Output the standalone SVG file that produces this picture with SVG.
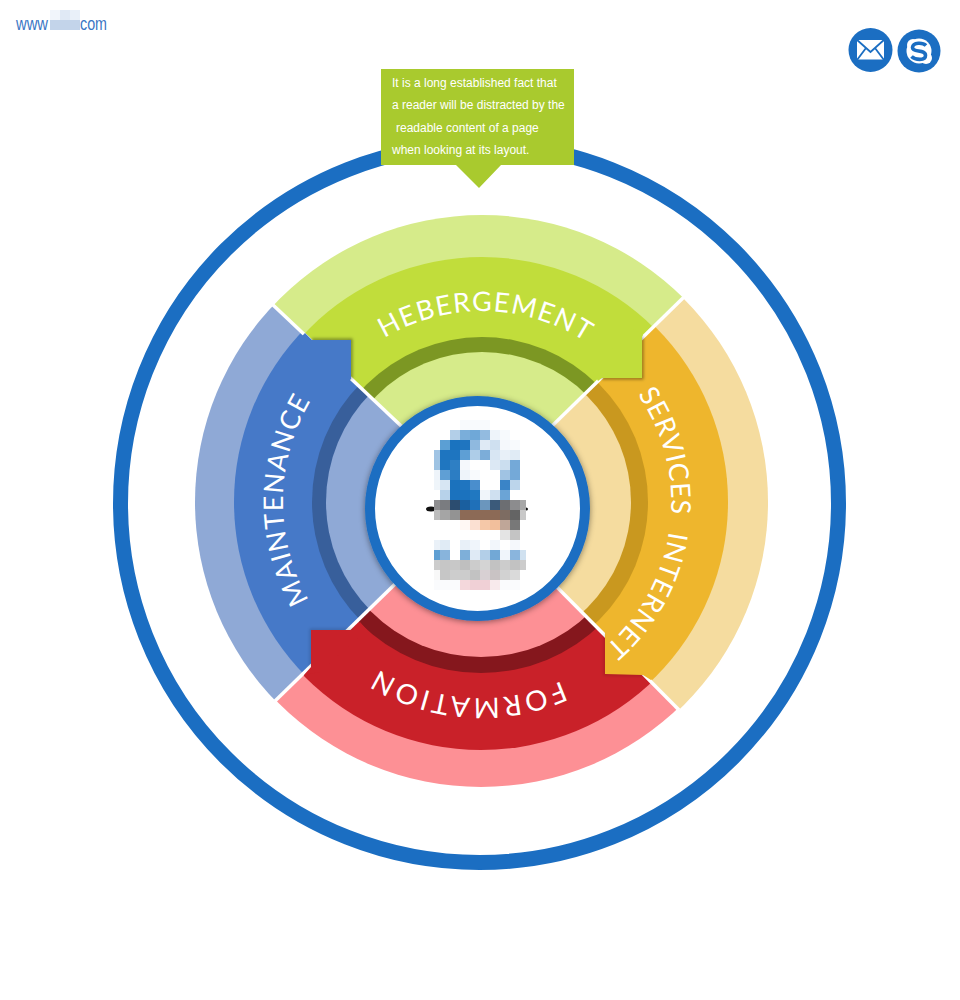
<svg xmlns="http://www.w3.org/2000/svg" width="960" height="1000" viewBox="0 0 960 1000">
<style>
.lab{font-family:"Lato","Liberation Sans",sans-serif;font-size:27px;fill:#fff}
.cal{font-family:"Liberation Sans",Arial,sans-serif;font-size:12px;fill:#fff}
.url{font-family:"Liberation Sans Narrow","Liberation Sans",sans-serif;font-size:18px;fill:#3a76c4}
.div{stroke:#fff;stroke-width:3.5;fill:none}
.sh{fill:none;stroke:#000;stroke-width:3;stroke-opacity:.4;filter:url(#blur)}
.sl{stroke-opacity:.15}
</style>
<defs>
<filter id="blur" x="-30%" y="-30%" width="160%" height="160%"><feGaussianBlur stdDeviation="1.5"/></filter>
<filter id="cs" x="-10%" y="-10%" width="120%" height="120%"><feDropShadow dx="0" dy="1" stdDeviation="3" flood-color="#000" flood-opacity=".45"/></filter>
<clipPath id="wg"><polygon points="180,217 479,500 780,203 780,100 180,100"/></clipPath>
<clipPath id="wb"><polygon points="180,217 479,500 479,502 180,793.5 100,793.5 100,217"/></clipPath>
<clipPath id="wo"><polygon points="780,203 479,500 479,508.6 780,811.7 860,811.7 860,203"/></clipPath>
<clipPath id="wr"><polygon points="180,793.5 479,502 479,508.6 780,811.7 780,860 180,860"/></clipPath>
<path id="pg" d="M317.5,406 A190,190 0 0 1 646.5,406"/>
<path id="pb" d="M309.5,601 A198,198 0 0 1 309.5,403"/>
<path id="po" d="M626.8,380 A191,191 0 0 1 590.6,658.4"/>
<path id="pr" d="M607.7,651.9 A197,197 0 0 1 354.3,651.9"/>
</defs>
<rect width="960" height="1000" fill="#fff"/>
<g id="outer-ring"><circle cx="479.5" cy="503.5" r="359" fill="none" stroke="#1b6ec2" stroke-width="15"/></g>

<g id="sector-hebergement" clip-path="url(#wg)">
<circle cx="482" cy="501" r="286" fill="#d6eb8a"/><circle cx="482" cy="501" r="244" fill="#c1dd3b"/><circle cx="482" cy="501" r="164" fill="#7c9723"/><circle cx="482" cy="501" r="149" fill="#d6eb8a"/>
</g>
<g id="sector-maintenance" clip-path="url(#wb)">
<circle cx="481" cy="502" r="286" fill="#8fa9d6"/><circle cx="481" cy="502" r="247" fill="#4679c8"/><circle cx="481" cy="502" r="169" fill="#385f9b"/><circle cx="481" cy="502" r="155" fill="#8fa9d6"/>
</g>
<g id="sector-services" clip-path="url(#wo)">
<circle cx="481" cy="502" r="287" fill="#f5dc9f"/><circle cx="481" cy="502" r="247" fill="#eeb62d"/><circle cx="481" cy="502" r="167" fill="#c9981f"/><circle cx="481" cy="502" r="150" fill="#f5dc9f"/>
</g>
<g id="sector-formation" clip-path="url(#wr)">
<circle cx="481" cy="501" r="286" fill="#fd9095"/><circle cx="481" cy="501" r="249" fill="#c92129"/><circle cx="481" cy="501" r="172" fill="#85171d"/><circle cx="481" cy="501" r="156" fill="#fd9095"/>
</g>

<g id="connectors">
<path class="div" d="M272,304 L420,443.8"/>
<path class="div" d="M684,297 L540,437.7"/>
<path class="div" d="M540,570 L679,710"/>
<path class="div" d="M410,569.5 L275,701"/>
</g>

<g id="tab-maintenance">
<path class="sh" d="M312,340H351V379"/>
<polygon points="305,333 312,340 351,340 351,379 345,385 298,340" fill="#4679c8"/>
</g>
<g id="tab-hebergement">
<path class="sh" d="M642,337V378H602"/>
<polygon points="643,335 642,337 642,378 602,378 598,381 592,370 632,328" fill="#c1dd3b"/>
</g>
<g id="tab-services">
<path class="sh sl" d="M605,634V674L643,675"/>
<polygon points="605,633 605,674 643,675 651,680 651,668 615,628" fill="#eeb62d"/>
</g>
<g id="tab-formation">
<path class="sh sl" d="M353,630H311V667"/>
<polygon points="360,622 353,630 311,630 311,667 304,675 320,672 367,630" fill="#c92129"/>
</g>

<g id="labels">
<text class="lab" letter-spacing="1.3"><textPath href="#pg" startOffset="51%" text-anchor="middle">HEBERGEMENT</textPath></text>
<text class="lab" letter-spacing="1.2"><textPath href="#pb" startOffset="51%" text-anchor="middle">MAINTENANCE</textPath></text>
<text class="lab" letter-spacing="0.8" word-spacing="9"><textPath href="#po" startOffset="50%" text-anchor="middle">SERVICES INTERNET</textPath></text>
<text class="lab" letter-spacing="3" style="font-size:28px"><textPath href="#pr" startOffset="55%" text-anchor="middle">FORMATION</textPath></text>
</g>

<g id="callout">
<polygon points="381,69 574,69 574,165 501,165 479,188 456,165 381,165" fill="#a9ca2e"/>
<text class="cal" x="392" y="87">It is a long established fact that</text>
<text class="cal" x="392" y="109">a reader will be distracted by the</text>
<text class="cal" x="396" y="132">readable content of a page</text>
<text class="cal" x="392" y="154">when looking at its layout.</text>
</g>

<g id="center">
<circle cx="477.5" cy="508.5" r="107.5" fill="#fff" stroke="#1b6ec2" stroke-width="10" filter="url(#cs)"/>
<ellipse cx="431" cy="509" rx="5" ry="2.5" fill="#111"/><ellipse cx="526" cy="509" rx="2" ry="1.5" fill="#111"/>
<g id="pixels" shape-rendering="crispEdges">
<path fill="#f8fafd" d="M460,420h30v10h-30z"/>
<path fill="#b3cfe8" d="M450,430h10v10h-10z"/><path fill="#7aaeda" d="M460,430h10v10h-10z"/><path fill="#6fa8d8" d="M470,430h10v10h-10z"/><path fill="#93bbe0" d="M480,430h10v10h-10z"/><path fill="#eef4fa" d="M490,430h10v10h-10z"/><path fill="#f7fafd" d="M500,430h10v10h-10z"/>
<path fill="#5b9fd4" d="M440,440h10v10h-10z"/><path fill="#1a73bf" d="M450,440h10v10h-10z"/><path fill="#1f75c0" d="M460,440h10v10h-10z"/><path fill="#8fb9df" d="M470,440h10v10h-10z"/><path fill="#dfeaf5" d="M480,440h10v10h-10z"/><path fill="#cfe0f0" d="M490,440h10v10h-10z"/><path fill="#f5f8fc" d="M500,440h10v10h-10z"/><path fill="#f8fafd" d="M510,440h10v10h-10z"/>
<path fill="#a0c4e4" d="M434,450h6v10h-6z"/><path fill="#1e75c0" d="M440,450h20v10h-20z"/><path fill="#5e9fd5" d="M460,450h10v10h-10z"/><path fill="#aecde8" d="M470,450h10v10h-10z"/><path fill="#7cadd9" d="M480,450h10v10h-10z"/><path fill="#d8e6f3" d="M490,450h10v10h-10z"/><path fill="#e8f0f8" d="M500,450h10v10h-10z"/><path fill="#e0ebf5" d="M510,450h10v10h-10z"/>
<path fill="#9ec3e3" d="M434,460h6v10h-6z"/><path fill="#1f76c0" d="M440,460h10v10h-10z"/><path fill="#2e7fc4" d="M450,460h10v10h-10z"/><path fill="#f5f8fc" d="M460,460h10v10h-10z"/><path fill="#dce8f4" d="M490,460h10v10h-10z"/><path fill="#cbdeef" d="M500,460h10v10h-10z"/><path fill="#74a9d8" d="M510,460h10v10h-10z"/>
<path fill="#eef4fa" d="M434,470h6v10h-6z"/><path fill="#5f9fd5" d="M440,470h10v10h-10z"/><path fill="#2c7dc3" d="M450,470h10v10h-10z"/><path fill="#eef4fa" d="M460,470h10v10h-10z"/><path fill="#f8fafd" d="M470,470h10v10h-10z"/><path fill="#a0c3e3" d="M500,470h10v10h-10z"/><path fill="#74a9d8" d="M510,470h10v10h-10z"/>
<path fill="#eff5fa" d="M434,480h6v10h-6z"/><path fill="#d7e6f3" d="M440,480h10v10h-10z"/><path fill="#1b72bd" d="M450,480h10v10h-10z"/><path fill="#1f75c0" d="M460,480h10v10h-10z"/><path fill="#4a8ecd" d="M470,480h10v10h-10z"/><path fill="#3a84c7" d="M500,480h10v10h-10z"/><path fill="#bcd5eb" d="M510,480h10v10h-10z"/>
<path fill="#b7d2ea" d="M440,490h10v10h-10z"/><path fill="#1b72be" d="M450,490h20v10h-20z"/><path fill="#2078c1" d="M470,490h10v10h-10z"/><path fill="#f0f5fa" d="M480,490h10v10h-10z"/><path fill="#cfe0f0" d="M490,490h10v10h-10z"/><path fill="#6ba4d6" d="M500,490h10v10h-10z"/>
<path fill="#8e8e90" d="M434,500h6v10h-6z"/><path fill="#7a7c80" d="M440,500h10v10h-10z"/><path fill="#2c4d70" d="M450,500h10v10h-10z"/><path fill="#1a5f9f" d="M460,500h10v10h-10z"/><path fill="#1f70b9" d="M470,500h10v10h-10z"/><path fill="#6b96bd" d="M480,500h10v10h-10z"/><path fill="#3b5a7a" d="M490,500h10v10h-10z"/><path fill="#6c6e72" d="M500,500h10v10h-10z"/><path fill="#8c8c8e" d="M510,500h10v10h-10z"/><path fill="#a8a8a8" d="M520,500h6v10h-6z"/>
<path fill="#bcbcbc" d="M434,510h6v10h-6z"/><path fill="#a5a5a5" d="M440,510h10v10h-10z"/><path fill="#939393" d="M450,510h10v10h-10z"/><path fill="#8c6a56" d="M460,510h40v10h-40z"/><path fill="#7d6c62" d="M500,510h10v10h-10z"/><path fill="#646464" d="M510,510h10v10h-10z"/><path fill="#c8c8c8" d="M520,510h6v10h-6z"/>
<path fill="#fff8f4" d="M460,520h10v10h-10z"/><path fill="#fbe0d2" d="M470,520h10v10h-10z"/><path fill="#f5c8a8" d="M480,520h10v10h-10z"/><path fill="#f2bf9c" d="M490,520h10v10h-10z"/><path fill="#bfa698" d="M500,520h10v10h-10z"/><path fill="#787878" d="M510,520h10v10h-10z"/>
<path fill="#e4e4e4" d="M500,530h10v10h-10z"/><path fill="#c4c4c4" d="M510,530h10v10h-10z"/>
<path fill="#eaf1f8" d="M434,540h6v10h-6z"/><path fill="#e0ebf5" d="M440,540h10v10h-10z"/><path fill="#e8f0f8" d="M460,540h10v10h-10z"/><path fill="#f0f5fb" d="M470,540h10v10h-10z"/><path fill="#f2f6fb" d="M490,540h10v10h-10z"/><path fill="#f5f8fc" d="M510,540h10v10h-10z"/>
<path fill="#5f9fd3" d="M434,550h6v10h-6z"/><path fill="#88b4dc" d="M440,550h10v10h-10z"/><path fill="#7eafd9" d="M460,550h10v10h-10z"/><path fill="#dfeaf5" d="M470,550h10v10h-10z"/><path fill="#b3cfe8" d="M480,550h10v10h-10z"/><path fill="#72a8d6" d="M490,550h10v10h-10z"/><path fill="#f0f5fb" d="M500,550h10v10h-10z"/><path fill="#8ab5dd" d="M510,550h10v10h-10z"/><path fill="#d0e1f0" d="M520,550h6v10h-6z"/>
<path fill="#ccc" d="M434,560h6v10h-6z"/><path fill="#c6c6c6" d="M440,560h10v10h-10z"/><path fill="#c8c8c8" d="M450,560h10v10h-10z"/><path fill="#bfbfbf" d="M460,560h10v10h-10z"/><path fill="#ccc" d="M470,560h10v10h-10z"/><path fill="#d4d4d4" d="M480,560h10v10h-10z"/><path fill="#c2c2c2" d="M490,560h10v10h-10z"/><path fill="#ccc" d="M500,560h10v10h-10z"/><path fill="#c2c2c2" d="M510,560h10v10h-10z"/><path fill="#ccc" d="M520,560h6v10h-6z"/>
<path fill="#f8f8f8" d="M434,570h6v10h-6z"/><path fill="#c6c6c6" d="M440,570h10v10h-10z"/><path fill="#cdcdcd" d="M450,570h10v10h-10z"/><path fill="#ccc" d="M460,570h10v10h-10z"/><path fill="#c2c2c2" d="M470,570h10v10h-10z"/><path fill="#d8d0d3" d="M480,570h10v10h-10z"/><path fill="#c9c3c4" d="M490,570h10v10h-10z"/><path fill="#d2d2d2" d="M500,570h10v10h-10z"/><path fill="#dadada" d="M510,570h10v10h-10z"/>
<path fill="#fafbfd" d="M434,580h26v10h-26z"/><path fill="#f4d8dc" d="M460,580h10v10h-10z"/><path fill="#f0d0d6" d="M470,580h20v10h-20z"/><path fill="#f8eaec" d="M490,580h10v10h-10z"/><path fill="#fafbfd" d="M500,580h20v10h-20z"/>
</g>
</g>

<g id="site-url">
<g shape-rendering="crispEdges"><rect x="50" y="10" width="10" height="10" fill="#f1f5fb"/><rect x="60" y="10" width="10" height="10" fill="#e0e9f5"/><rect x="70" y="10" width="10" height="10" fill="#e9f0f9"/><rect x="50" y="20" width="30" height="10" fill="#c3d4ea"/></g>
<text class="url" x="16" y="30" textLength="32" lengthAdjust="spacingAndGlyphs">www</text>
<text class="url" x="80" y="30" textLength="27" lengthAdjust="spacingAndGlyphs">com</text>
</g>

<g id="icon-mail">
<circle cx="870.5" cy="50" r="22" fill="#1b6ec2"/>
<rect x="857" y="40" width="27" height="19.5" fill="#fff"/>
<path d="M856,39 L870.5,52 L885,39 M857,60 L866,48 M884,60 L875,48" fill="none" stroke="#1b6ec2" stroke-width="1.8"/>
</g>
<g id="icon-skype">
<circle cx="919" cy="51" r="21.5" fill="#1b6ec2"/>
<circle cx="919" cy="51" r="12.5" fill="#fff"/><circle cx="913" cy="45" r="6" fill="#fff"/><circle cx="926" cy="58" r="6" fill="#fff"/>
<path d="M926,45.5 C923,42.5 913,42 912.5,47.5 C912.5,53 925.5,49 925.5,55.5 C925.5,61 915,60 911.5,56.5" fill="none" stroke="#1b6ec2" stroke-width="3.6"/>
</g>
</svg>
